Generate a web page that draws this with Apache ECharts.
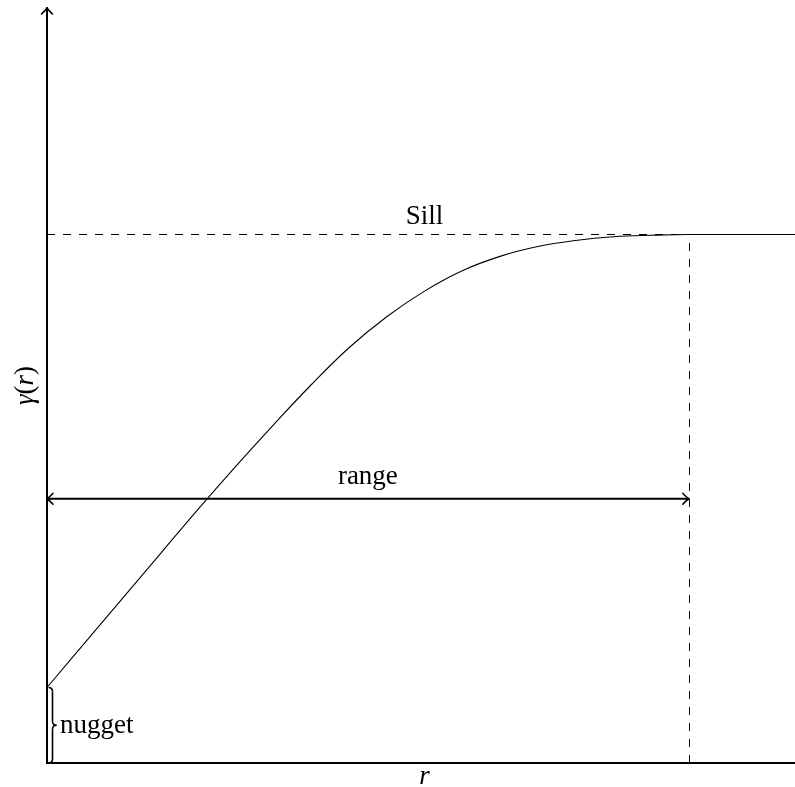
<!DOCTYPE html>
<html>
<head>
<meta charset="utf-8">
<title>Variogram</title>
<script src="https://cdn.jsdelivr.net/npm/echarts@6/dist/echarts.min.js"></script>
<style>
  html, body { margin: 0; padding: 0; background: #ffffff; }
  #chart { width: 795px; height: 787px; }
</style>
</head>
<body>
<div id="chart"></div>
<script>
// Lag distances r and the semivariance γ(r) of the model curve
const lagValues   = [0, 0.5, 1, 1.5, 2, 2.5, 3, 3.5, 4, 4.5, 5, 5.5, 6, 6.5, 7, 7.5, 8, 8.5, 9, 9.5, 10];
const gammaValues = [1.0, 1.59, 2.18, 2.77, 3.36, 3.93, 4.48, 5.01, 5.50, 5.91, 6.25, 6.52, 6.71, 6.84, 6.92, 6.97, 6.99, 7.0, 7.0, 7.0, 7.0];

// Model parameters marked on the plot
const NUGGET = 1.0;
const SILL = 7.0;
const RANGE = 8.5;
const RANGE_ARROW_LEVEL = 3.5;

// Axis extent
const X_MIN = 0, X_MAX = 10;
const Y_MIN = 0, Y_MAX = 10;

// Text
const sillText = 'Sill';
const rangeText = 'range';
const nuggetText = 'nugget';

const SERIF = '"Liberation Serif", "DejaVu Serif", serif';
const FONT_PX = 27;

const curveData = lagValues.map((r, i) => [r, gammaValues[i]]);

// Open "to"-style arrow head ending at tip, pointing along (dx, dy)
function arrowHead(tip, dx, dy, width) {
  const nx = -dy, ny = dx;
  const back = 6, half = 5.5;
  const mk = (s) => ({
    type: 'bezierCurve',
    shape: {
      x1: tip[0] - back * dx + s * half * nx,
      y1: tip[1] - back * dy + s * half * ny,
      cpx1: tip[0] - 2 * dx + s * 1.2 * nx,
      cpy1: tip[1] - 2 * dy + s * 1.2 * ny,
      x2: tip[0], y2: tip[1]
    },
    style: { stroke: '#000', lineWidth: width, fill: null, lineCap: 'round' }
  });
  return [mk(1), mk(-1)];
}

// Right-facing curly brace between two points on the y axis
function brace(top, bottom, h, width) {
  const x0 = top[0] + 1.5;
  const yT = top[1], yB = bottom[1], ym = (yT + yB) / 2;
  const st = { stroke: '#000', lineWidth: width, fill: null };
  return [
    { type: 'bezierCurve', shape: { x1: x0, y1: yT, cpx1: x0 + h, cpy1: yT, x2: x0 + h, y2: yT + h }, style: st },
    { type: 'line', shape: { x1: x0 + h, y1: yT + h, x2: x0 + h, y2: ym - h }, style: st },
    { type: 'bezierCurve', shape: { x1: x0 + h, y1: ym - h, cpx1: x0 + h, cpy1: ym, x2: x0 + 2 * h, y2: ym }, style: st },
    { type: 'bezierCurve', shape: { x1: x0 + 2 * h, y1: ym, cpx1: x0 + h, cpy1: ym, x2: x0 + h, y2: ym + h }, style: st },
    { type: 'line', shape: { x1: x0 + h, y1: ym + h, x2: x0 + h, y2: yB - h }, style: st },
    { type: 'bezierCurve', shape: { x1: x0 + h, y1: yB - h, cpx1: x0 + h, cpy1: yB, x2: x0, y2: yB }, style: st }
  ];
}

function label(text, pos, align, verticalAlign, italic) {
  return {
    type: 'text',
    style: {
      text: text,
      x: pos[0], y: pos[1],
      align: align, verticalAlign: verticalAlign,
      fontFamily: SERIF, fontSize: FONT_PX,
      fontStyle: italic ? 'italic' : 'normal',
      fill: '#000'
    }
  };
}

function renderAnnotations(params, api) {
  const children = [];

  // Arrow head on top of the γ(r) axis
  children.push(...arrowHead(api.coord([X_MIN, Y_MAX]), 0, -1, 1.6));

  // Double-headed range arrow
  const a = api.coord([0, RANGE_ARROW_LEVEL]);
  const b = api.coord([RANGE, RANGE_ARROW_LEVEL]);
  children.push({
    type: 'line',
    shape: { x1: a[0], y1: a[1], x2: b[0], y2: b[1] },
    style: { stroke: '#000', lineWidth: 2 }
  });
  children.push(...arrowHead(a, -1, 0, 1.6));
  children.push(...arrowHead(b, 1, 0, 1.6));

  // Range label above the arrow
  children.push(label(rangeText, [(a[0] + b[0]) / 2, a[1] - 22], 'center', 'middle', false));

  // Sill label above the dashed sill line
  const s = api.coord([(X_MIN + X_MAX) / 2, SILL]);
  children.push(label(sillText, [s[0], s[1] - 18], 'center', 'middle', false));

  // Nugget brace and its label
  const n0 = api.coord([0, 0]);
  const n1 = api.coord([0, NUGGET]);
  children.push(...brace(n1, n0, 4, 1.6));
  children.push(label(nuggetText, [n0[0] + 13, (n0[1] + n1[1]) / 2 + 1], 'left', 'middle', false));

  return { type: 'group', children: children };
}

const chart = echarts.init(document.getElementById('chart'), null, { renderer: 'canvas' });

chart.setOption({
  animation: false,
  backgroundColor: '#ffffff',
  grid: { left: 47, right: -7, top: 8, bottom: 24, containLabel: false, outerBoundsMode: 'none' },
  xAxis: {
    type: 'value',
    min: X_MIN, max: X_MAX,
    name: 'r',
    nameLocation: 'middle',
    nameGap: 0,
    nameTextStyle: { fontFamily: SERIF, fontSize: FONT_PX, fontStyle: 'italic', color: '#000' },
    axisLine: { show: true, onZero: false, lineStyle: { color: '#000', width: 2 } },
    axisTick: { show: false },
    axisLabel: { show: false },
    splitLine: { show: false }
  },
  yAxis: {
    type: 'value',
    min: Y_MIN, max: Y_MAX,
    name: '{i|γ}{u|(}{i|r}{u|)}',
    nameLocation: 'middle',
    nameGap: 8,
    nameTextStyle: {
      color: '#000',
      rich: {
        i: { fontFamily: SERIF, fontSize: FONT_PX, fontStyle: 'italic', color: '#000' },
        u: { fontFamily: SERIF, fontSize: FONT_PX, color: '#000' }
      }
    },
    axisLine: { show: true, onZero: false, lineStyle: { color: '#000', width: 2 } },
    axisTick: { show: false },
    axisLabel: { show: false },
    splitLine: { show: false }
  },
  series: [
    {
      name: 'γ(r)',
      type: 'line',
      data: curveData,
      smooth: 0.4,
      showSymbol: false,
      symbol: 'none',
      lineStyle: { color: '#000', width: 1.1 },
      markLine: {
        silent: true,
        symbol: 'none',
        label: { show: false },
        lineStyle: { color: '#000', width: 1, type: [8, 8] },
        data: [
          [{ coord: [X_MIN, SILL] }, { coord: [X_MAX, SILL] }],
          [{ coord: [RANGE, Y_MIN] }, { coord: [RANGE, SILL] }]
        ]
      },
      z: 3
    },
    {
      name: 'annotations',
      type: 'custom',
      data: [0],
      renderItem: renderAnnotations,
      silent: true,
      clip: false,
      z: 4
    }
  ]
});
</script>
</body>
</html>
